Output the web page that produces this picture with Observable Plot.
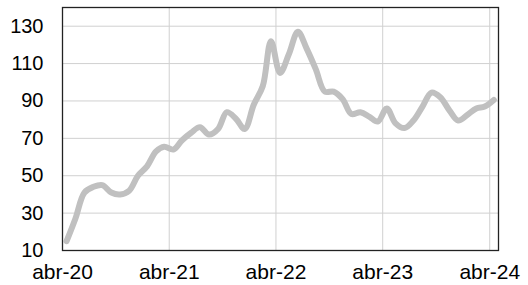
<!DOCTYPE html>
<html>
<head>
<meta charset="utf-8">
<script src="https://cdn.jsdelivr.net/npm/d3@7"></script>
<script src="https://cdn.jsdelivr.net/npm/@observablehq/plot@0.6"></script>
<style>
  html, body { margin: 0; padding: 0; background: #fff; }
  #chart { width: 528px; height: 285px; }
  svg { font-family: "Liberation Sans", Arial, sans-serif; }
</style>
</head>
<body>
<div id="chart"></div>
<script>
// Monthly series, April 2020 .. April 2024
const months = [
  "2020-04","2020-05","2020-06","2020-07","2020-08","2020-09","2020-10","2020-11","2020-12",
  "2021-01","2021-02","2021-03","2021-04","2021-05","2021-06","2021-07","2021-08","2021-09","2021-10","2021-11","2021-12",
  "2022-01","2022-02","2022-03","2022-04","2022-05","2022-06","2022-07","2022-08","2022-09","2022-10","2022-11","2022-12",
  "2023-01","2023-02","2023-03","2023-04","2023-05","2023-06","2023-07","2023-08","2023-09","2023-10","2023-11","2023-12",
  "2024-01","2024-02","2024-03","2024-04"
];
const values = [
  15, 27, 41, 44, 45, 41, 40, 42, 50,
  55, 63, 65.5, 64, 69, 73, 76, 72, 75, 84, 80.5, 75,
  88, 98, 122, 105, 115, 127, 118, 107, 95, 95, 91, 83,
  84, 81.5, 79, 86, 78, 75.5, 79.5, 87, 94.5, 92, 85, 79.5,
  82.5, 86, 87, 90.5
];
const xTickDates = ["2020-04","2021-04","2022-04","2023-04","2024-04"];
const xTickLabels = ["abr-20","abr-21","abr-22","abr-23","abr-24"];
const yTicks = [10, 30, 50, 70, 90, 110, 130];

// Points sit in the middle of each month (date axis, between tick marks)
const data = months.map((m, i) => ({ date: new Date(m + "-15T00:00:00Z"), value: values[i] }));
const xTicks = xTickDates.map(m => new Date(m + "-01T00:00:00Z"));
const labelOf = new Map(xTicks.map((d, i) => [+d, xTickLabels[i]]));

const chart = Plot.plot({
  width: 528,
  height: 285,
  marginLeft: 62,
  marginRight: 30,
  marginTop: 7,
  marginBottom: 35,
  style: { fontFamily: "'Liberation Sans', Arial, sans-serif", fontSize: "20px", color: "#000", background: "#fff" },
  x: { type: "utc", domain: [new Date("2020-04-01T00:00:00Z"), new Date("2024-05-01T00:00:00Z")] },
  y: { domain: [10, 140] },
  marks: [
    Plot.gridX(xTicks, { stroke: "#d0d0d0", strokeOpacity: 1, strokeWidth: 1 }),
    Plot.gridY(yTicks, { stroke: "#d0d0d0", strokeOpacity: 1, strokeWidth: 1 }),
    Plot.line(data, { x: "date", y: "value", stroke: "#c0c0c0", strokeWidth: 6, curve: "catmull-rom", strokeLinecap: "round", strokeLinejoin: "round" }),
    Plot.frame({ stroke: "#222", strokeWidth: 1.3 }),
    Plot.axisX(xTicks, { tickSize: 0, tickPadding: 14, tickFormat: d => labelOf.get(+d), fontSize: 21, label: null }),
    Plot.axisY(yTicks, { tickSize: 0, tickPadding: 19, fontSize: 20, label: null })
  ]
});
document.getElementById("chart").appendChild(chart);
</script>
</body>
</html>
